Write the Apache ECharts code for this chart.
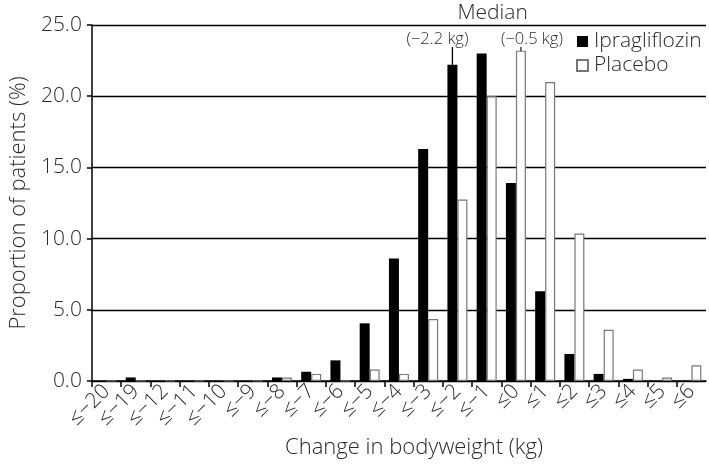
<!DOCTYPE html>
<html>
<head>
<meta charset="utf-8">
<script src="https://cdn.jsdelivr.net/npm/echarts@6/dist/echarts.min.js"></script>
<style>html,body{margin:0;padding:0;background:#fff}#c{width:709px;height:464px}</style>
</head>
<body>
<div id="c"></div>
<script>
var categories = ['≤−20','≤−19','≤−12','≤−11','≤−10','≤−9','≤−8','≤−7','≤−6','≤−5','≤−4','≤−3','≤−2','≤−1','≤0','≤1','≤2','≤3','≤4','≤5','≤6'];
var ipragliflozin = [0, 0.25, 0, 0, 0, 0, 0.25, 0.65, 1.45, 4.05, 8.6, 16.3, 22.2, 23.0, 13.9, 6.3, 1.9, 0.5, 0.15, 0, 0];
var placebo =       [0, 0, 0, 0, 0, 0, 0.25, 0.5, 0, 0.8, 0.5, 4.35, 12.75, 20.0, 23.2, 21.0, 10.35, 3.6, 0.8, 0.25, 1.1];
var yTicks = [0, 5, 10, 15, 20, 25];
var medianLabels = ['Median', '(−2.2 kg)', '(−0.5 kg)'];
var medianCats = ['≤−2', '≤0'];

var FONT = "'Open Sans', 'DejaVu Sans', sans-serif";
var TXT = '#2a2a2a';
var FW = 300;
var BW = 10;

var chart = echarts.init(document.getElementById('c'));
var option = {
  animation: false,
  grid: { left: 82, right: 3, top: 25, bottom: 83, containLabel: false },
  legend: {
    orient: 'vertical', left: 571, top: 26, itemWidth: 11, itemHeight: 11, itemGap: 3,
    icon: 'rect',
    textStyle: { fontFamily: FONT, fontWeight: FW, fontSize: 21, color: TXT, padding: [0, 0, 0, 1] },
    data: ['Ipragliflozin', 'Placebo']
  },
  xAxis: {
    type: 'category', data: categories, boundaryGap: true,
    name: 'Change in bodyweight (kg)', nameLocation: 'middle', nameGap: 52,
    nameTextStyle: { fontFamily: FONT, fontWeight: FW, fontSize: 22, color: TXT, padding: [0, 0, 0, 30] },
    axisLine: { lineStyle: { color: '#000', width: 1.5 } },
    axisTick: { show: true, length: 6, lineStyle: { color: '#000', width: 1.5 }, alignWithLabel: false },
    axisLabel: { rotate: 45, interval: 0, margin: 7, fontFamily: FONT, fontWeight: FW, fontSize: 21, color: TXT }
  },
  yAxis: {
    type: 'value', min: 0, max: 25, interval: 5,
    name: 'Proportion of patients (%)', nameLocation: 'middle', nameGap: 56,
    nameTextStyle: { fontFamily: FONT, fontWeight: FW, fontSize: 22, color: TXT },
    axisLine: { show: true, lineStyle: { color: '#000', width: 1.5 } },
    axisTick: { show: true, length: 5, lineStyle: { color: '#000', width: 1.5 } },
    splitLine: { show: true, lineStyle: { color: '#000', width: 1.3 } },
    axisLabel: { margin: 10, fontFamily: FONT, fontWeight: FW, fontSize: 21, color: TXT,
      formatter: function (v) { return v.toFixed(1); } }
  },
  series: [
    { name: 'Ipragliflozin', type: 'bar', data: ipragliflozin, barWidth: BW, barGap: '0%',
      itemStyle: { color: '#000', borderColor: '#000', borderWidth: 0 } },
    { name: 'Placebo', type: 'bar', data: placebo, barWidth: BW, barGap: '0%',
      itemStyle: { color: '#fff', borderColor: '#777', borderWidth: 1.2 } }
  ]
};
chart.setOption(option);

function addAnnotations() {
  var xI = chart.convertToPixel({ xAxisIndex: 0 }, medianCats[0]) - BW / 2;
  var xP = chart.convertToPixel({ xAxisIndex: 0 }, medianCats[1]) + BW / 2;
  var yI = chart.convertToPixel({ yAxisIndex: 0 }, ipragliflozin[categories.indexOf(medianCats[0])]);
  var yP0 = chart.convertToPixel({ yAxisIndex: 0 }, 0);
  var yTop = chart.convertToPixel({ yAxisIndex: 0 }, 25);
  var yLineTop = yTop + 22;
  var ts = { fontFamily: FONT, fontWeight: FW, fill: TXT };
  chart.setOption({
    graphic: [
      { type: 'text', x: (xI + xP) / 2 + 6, y: yTop - 1,
        style: Object.assign({ text: medianLabels[0], fontSize: 21, align: 'center', verticalAlign: 'bottom' }, ts) },
      { type: 'text', x: xI - 15, y: yTop + 14,
        style: Object.assign({ text: medianLabels[1], fontSize: 16.5, align: 'center', verticalAlign: 'middle' }, ts) },
      { type: 'text', x: xP + 11, y: yTop + 14,
        style: Object.assign({ text: medianLabels[2], fontSize: 16.5, align: 'center', verticalAlign: 'middle' }, ts) },
      { type: 'line', shape: { x1: xI, y1: yLineTop, x2: xI, y2: yI }, style: { stroke: '#000', lineWidth: 1.3 } },
      { type: 'line', shape: { x1: xP, y1: yLineTop, x2: xP, y2: yP0 }, style: { stroke: '#000', lineWidth: 1.1 } }
    ]
  });
}
addAnnotations();
</script>
</body>
</html>
